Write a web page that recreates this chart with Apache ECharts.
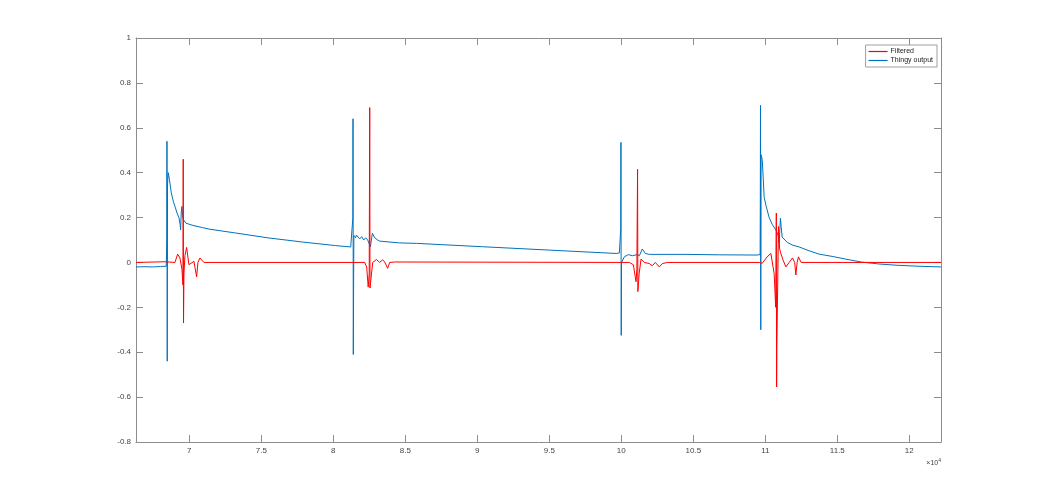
<!DOCTYPE html>
<html>
<head>
<meta charset="utf-8">
<script src="https://cdn.jsdelivr.net/npm/echarts@6/dist/echarts.min.js"></script>
<style>
html,body{margin:0;padding:0;background:#fff;}
#c{width:1040px;height:496px;}
</style>
</head>
<body>
<div id="c"></div>
<script>
// ---- data (x in raw units, chart labels in units of 10^4) ----
const seriesNames = ['Filtered', 'Thingy output'];

const blueX = [66300, 67000, 67500, 68000, 68400,
  68440, 68450, 68470, 68490, 68540, 68620, 68750, 68900, 69005, 69150, 69282, 69360, 69400, 69440, 69490, 69530, 69600, 69768, 70253, 70926, 71432, 73235, 75524, 77860, 80170, 81210, 81330,
  81360, 81370, 81390, 81410, 81430, 81550, 81606, 81834, 81973, 82112, 82250, 82389, 82576, 82715, 82875, 83083, 83222, 84608, 85767, 90364, 95011, 99637, 99865,
  99960, 99975, 99995, 100015, 100212, 100490, 100767, 101114, 101253, 101460, 101668, 101946, 104491, 106800, 109436, 109640,
  109655, 109665, 109685, 109705, 109782, 109851, 109921, 110060, 110268, 110476, 110732, 110892, 110961, 111051, 111100, 111169, 111516, 111863, 112348, 113041, 113735, 114637, 115816, 116648, 117896, 119283, 120670, 122200];
const blueY = [-0.02, -0.019, -0.02, -0.018, -0.017,
  0.1, 0.54, -0.44, 0.35, 0.40, 0.37, 0.31, 0.27, 0.25, 0.22, 0.20, 0.17, 0.145, 0.22, 0.25, 0.21, 0.19, 0.175, 0.165, 0.155, 0.148, 0.131, 0.109, 0.091, 0.075, 0.069, 0.07,
  0.2, 0.64, -0.41, -0.1, 0.12, 0.11, 0.122, 0.105, 0.115, 0.1, 0.11, 0.1, 0.07, 0.13, 0.11, 0.1, 0.095, 0.087, 0.085, 0.07, 0.055, 0.04, 0.042,
  0.15, 0.535, -0.325, 0.0, 0.025, 0.035, 0.03, 0.035, 0.03, 0.06, 0.04, 0.036, 0.036, 0.034, 0.033, 0.035,
  0.3, 0.70, -0.30, 0.48, 0.46, 0.38, 0.29, 0.25, 0.20, 0.17, 0.145, 0.12, 0.087, 0.197, 0.16, 0.113, 0.09, 0.078, 0.069, 0.052, 0.037, 0.027, 0.012, 0.002, -0.007, -0.013, -0.017, -0.02];

const redX = [66300, 68300, 69005, 69192, 69351, 69490, 69560, 69580, 69600, 69630, 69698, 69816, 69976, 70322, 70510, 70600, 70738, 71016,
  82181, 82320, 82424, 82494, 82530, 82550, 82646, 82736, 82993, 83222, 83430, 83568, 83776, 83915, 84262,
  100559, 100836, 101023, 101080, 101130, 101150, 101240, 101370, 101600, 101946, 102154, 102362, 102640, 102848, 103194,
  109574, 109782, 110129, 110386, 110476, 110615, 110720, 110765, 110785, 110800, 110860, 110913, 110996, 111079, 111239, 111426, 111655, 111884, 112040, 112120, 112210, 112300, 112487, 122200];
const redY = [0.0, 0.003, 0.0, 0.037, 0.02, -0.03, -0.1, 0.46, -0.27, -0.05, 0.03, 0.067, -0.01, 0.005, -0.064, 0.0, 0.02, 0.0,
  0.0, -0.02, -0.11, -0.05, 0.69, -0.114, -0.11, 0.0, 0.013, 0.0, 0.012, 0.002, -0.026, 0.0, 0.002,
  0.0, -0.01, -0.086, -0.03, 0.415, -0.13, -0.05, 0.015, 0.0, -0.005, -0.015, 0.0, -0.02, -0.005, 0.0,
  0.0, -0.004, 0.025, 0.04, 0.035, -0.05, -0.2, 0.22, -0.555, -0.38, -0.1, 0.16, 0.06, 0.04, 0.01, -0.02, 0.0, 0.02, 0.0, -0.056, 0.0, 0.025, 0.0, 0.0];

const xMin = 66300, xMax = 122200, xStep = 5000, xScale = 10000;
const yMin = -0.8, yMax = 1, yStep = 0.2;

// ---- chart ----
const zip = (xs, ys) => xs.map((x, i) => [x, ys[i]]);
const axisColor = '#8c8c8c';
const labelColor = '#444';
const font = 'Liberation Sans, Arial, sans-serif';

const xAxisBase = {
  type: 'value', min: xMin, max: xMax, splitNumber: 11, minInterval: xStep, maxInterval: xStep,
  axisLine: { show: true, onZero: false, lineStyle: { color: axisColor, width: 1 } },
  axisTick: { show: true, inside: true, length: 7, lineStyle: { color: axisColor } },
  splitLine: { show: false }
};
const yAxisBase = {
  type: 'value', min: yMin, max: yMax, interval: yStep,
  axisLine: { show: true, onZero: false, lineStyle: { color: axisColor, width: 1 } },
  axisTick: { show: true, inside: true, length: 7, lineStyle: { color: axisColor } },
  splitLine: { show: false }
};

const chart = echarts.init(document.getElementById('c'), null, { renderer: 'canvas' });
chart.setOption({
  backgroundColor: '#ffffff',
  animation: false,
  grid: { left: 136, right: 99, top: 38, bottom: 54, containLabel: false },
  xAxis: [
    Object.assign({}, xAxisBase, {
      position: 'bottom',
      axisLabel: {
        show: true, color: labelColor, fontSize: 8, fontFamily: font, margin: 5,
        showMinLabel: false, showMaxLabel: false,
        formatter: v => (Math.abs(v % xStep) < 1e-6 ? String(+(v / xScale).toFixed(2)) : '')
      }
    }),
    Object.assign({}, xAxisBase, { position: 'top', axisLabel: { show: false } })
  ],
  yAxis: [
    Object.assign({}, yAxisBase, {
      position: 'left',
      axisLabel: {
        show: true, color: labelColor, fontSize: 8, fontFamily: font, margin: 5,
        formatter: v => String(+v.toFixed(2))
      }
    }),
    Object.assign({}, yAxisBase, { position: 'right', axisLabel: { show: false } })
  ],
  legend: {
    orient: 'vertical', right: 103, top: 45,
    data: seriesNames.map(n => ({ name: n, icon: 'rect' })),
    itemWidth: 19, itemHeight: 1.2, itemGap: 2,
    padding: [3, 4, 3, 3],
    backgroundColor: '#ffffff',
    borderColor: '#a0a0a0', borderWidth: 1, borderRadius: 0,
    textStyle: { fontSize: 7, color: '#222', fontFamily: font, padding: [0, 0, 0, -2] }
  },
  graphic: [{
    type: 'text', right: 99, top: 458,
    style: {
      text: '{a|×10}{b|4}',
      rich: {
        a: { fontSize: 7, fill: labelColor, fontFamily: font },
        b: { fontSize: 5, fill: labelColor, fontFamily: font, verticalAlign: 'top', padding: [0, 0, 5, 0] }
      }
    }
  }],
  series: [
    {
      name: seriesNames[1], type: 'line', data: zip(blueX, blueY),
      symbol: 'none', showSymbol: false, smooth: false, sampling: null,
      lineStyle: { color: '#0072BD', width: 1 }, itemStyle: { color: '#0072BD' },
      z: 2
    },
    {
      name: seriesNames[0], type: 'line', data: zip(redX, redY),
      symbol: 'none', showSymbol: false, smooth: false, sampling: null,
      lineStyle: { color: '#FF0000', width: 1 }, itemStyle: { color: '#FF0000' },
      z: 3
    }
  ]
});
</script>
</body>
</html>
